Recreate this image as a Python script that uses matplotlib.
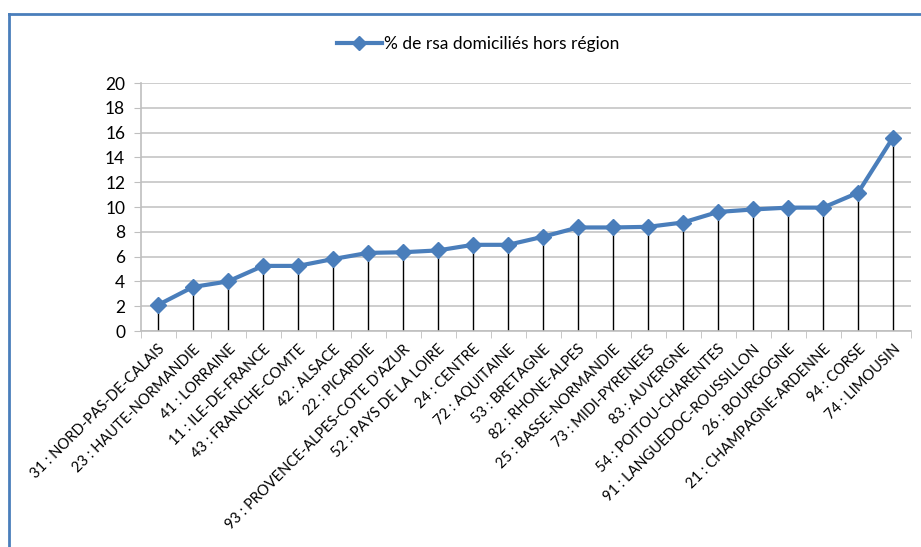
import matplotlib
matplotlib.use("Agg")
import matplotlib.pyplot as plt
import numpy as np
from matplotlib.lines import Line2D

regions = ["31 : NORD-PAS-DE-CALAIS", "23 : HAUTE-NORMANDIE", "41 : LORRAINE",
           "11 : ILE-DE-FRANCE", "43 : FRANCHE-COMTE", "42 : ALSACE",
           "22 : PICARDIE", "93 : PROVENCE-ALPES-COTE D'AZUR", "52 : PAYS DE LA LOIRE",
           "24 : CENTRE", "72 : AQUITAINE", "53 : BRETAGNE", "82 : RHONE-ALPES",
           "25 : BASSE-NORMANDIE", "73 : MIDI-PYRENEES", "83 : AUVERGNE",
           "54 : POITOU-CHARENTES", "91 : LANGUEDOC-ROUSSILLON", "26 : BOURGOGNE",
           "21 : CHAMPAGNE-ARDENNE", "94 : CORSE", "74 : LIMOUSIN"]
pct_hors_region = [2.1, 3.55, 4.0, 5.25, 5.25, 5.8, 6.3, 6.35, 6.5, 6.95, 6.95,
                   7.6, 8.35, 8.35, 8.4, 8.75, 9.6, 9.8, 9.95, 9.95, 11.15, 15.6]
y_ticks = [0, 2, 4, 6, 8, 10, 12, 14, 16, 18, 20]

plt.rcParams['font.family'] = ['Lato', 'DejaVu Sans']
bleu = '#4A7EBB'

fig = plt.figure(figsize=(9.21, 5.47), dpi=100)
ax = fig.add_axes([140.5 / 921, 1 - 331 / 547, 770 / 921, 248 / 547])

x = np.arange(len(regions))
ax.vlines(x, 0, pct_hors_region, color='black', lw=1, zorder=2)
ax.plot(x, pct_hors_region, color=bleu, lw=3, marker='D', ms=8,
        markeredgecolor=bleu, zorder=3)

ax.set_xlim(-0.5, len(regions) - 0.5)
ax.set_ylim(0, 20)
ax.set_yticks(y_ticks)
ax.yaxis.grid(True, color='#C0C0C0', lw=1.1)
ax.set_axisbelow(True)

ax.set_xticks(x)
ax.set_xticklabels(regions, rotation=45, ha='right', rotation_mode='anchor', fontsize=10.5)
ax.set_xticks(np.arange(-0.5, len(regions)), minor=True)
ax.tick_params(axis='x', which='major', length=0, pad=8)
ax.tick_params(axis='x', which='minor', length=5, color='#BFBFBF')
ax.tick_params(axis='y', length=5, color='#BFBFBF', labelsize=12.5, pad=6)

for s in ['top', 'right']:
    ax.spines[s].set_visible(False)
for s in ['left', 'bottom']:
    ax.spines[s].set_color('#BFBFBF')
    ax.spines[s].set_linewidth(1.2)

handle = Line2D([], [], color=bleu, lw=3, marker='D', ms=7, markeredgecolor=bleu)
fig.legend([handle], ["% de rsa domiciliés hors région"], loc='center',
           bbox_to_anchor=(478 / 921, 1 - 44 / 547), frameon=False,
           fontsize=12.5, handlelength=2.6, handletextpad=0.1)

# cadre du graphique (bord gauche et haut)
fig.add_artist(Line2D([9 / 921, 9 / 921], [0, 1 - 14 / 547], color=bleu, lw=2,
                      transform=fig.transFigure))
fig.add_artist(Line2D([9 / 921, 1], [1 - 14 / 547, 1 - 14 / 547], color=bleu, lw=2,
                      transform=fig.transFigure))

fig.savefig("out.png", dpi=100)
